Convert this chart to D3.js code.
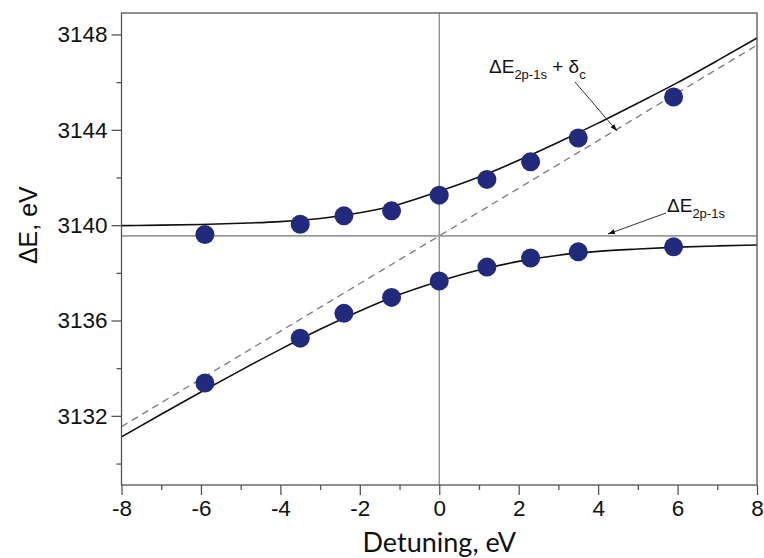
<!DOCTYPE html>
<html>
<head>
<meta charset="utf-8">
<script src="https://cdn.jsdelivr.net/npm/d3@7"></script>
<style>
  html, body { margin: 0; padding: 0; background: #fff; }
  svg { display: block; }
</style>
</head>
<body>
<div id="chart"></div>
<script>
// Measured transition energies vs. detuning (two branches of the avoided crossing)
const detuning = [-5.9, -3.5, -2.4, -1.2, 0, 1.2, 2.3, 3.5, 5.9];
const upperE   = [3139.61, 3140.04, 3140.39, 3140.60, 3141.26, 3141.92, 3142.66, 3143.66, 3145.38];
const lowerE   = [3133.38, 3135.26, 3136.30, 3136.97, 3137.66, 3138.24, 3138.62, 3138.88, 3139.09];

// Calculated branches
const curveX     = [-8, -7, -6, -5, -4, -3, -2, -1, 0, 1, 2, 3, 4, 5, 6, 7, 8];
const upperCurve = [3139.98, 3140.00, 3140.03, 3140.08, 3140.15, 3140.28, 3140.52, 3140.88, 3141.42,
                    3142.02, 3142.72, 3143.48, 3144.28, 3145.12, 3145.98, 3146.90, 3147.85];
const lowerCurve = [3131.12, 3132.07, 3133.00, 3133.91, 3134.79, 3135.63, 3136.40, 3137.09, 3137.65,
                    3138.12, 3138.48, 3138.74, 3138.90, 3139.00, 3139.08, 3139.13, 3139.17];

// Unperturbed levels: ΔE(2p-1s) and ΔE(2p-1s) + δ
const levelE    = 3139.55;
const diagonalX = [-8, 8];
const diagonalE = [3131.55, 3147.55];

// Axis ticks
const xTicks      = [-8, -6, -4, -2, 0, 2, 4, 6, 8];
const xMinorTicks = [-7, -5, -3, -1, 1, 3, 5, 7];
const yTicks      = [3132, 3136, 3140, 3144, 3148];
const yMinorTicks = [3130, 3134, 3138, 3142, 3146];

const W = 764, H = 558;
const margin = { top: 13, right: 7, bottom: 73, left: 121.5 };

const svg = d3.select("#chart").append("svg")
  .attr("width", W).attr("height", H);

const x = d3.scaleLinear().domain([-8, 8]).range([margin.left, W - margin.right]);
const y = d3.scaleLinear().domain([3129.1, 3148.9]).range([H - margin.bottom, margin.top]);

const axisColor = "#555";
const tickFont = "'Liberation Sans', Arial, sans-serif";
const plainInt = d => String(d);   // keeps an ASCII hyphen for negatives

svg.append("defs").append("clipPath").attr("id", "plot-clip")
  .append("rect")
  .attr("x", x(-8)).attr("y", y(3148.9))
  .attr("width", x(8) - x(-8)).attr("height", y(3129.1) - y(3148.9));

const plot = svg.append("g").attr("clip-path", "url(#plot-clip)");

// Reference lines: zero detuning and the unperturbed level
plot.append("line")
  .attr("x1", x(0)).attr("x2", x(0))
  .attr("y1", y(3148.9)).attr("y2", y(3129.1))
  .attr("stroke", "#8a8a8a").attr("stroke-width", 1.3);

plot.append("line")
  .attr("x1", x(-8)).attr("x2", x(8))
  .attr("y1", y(levelE)).attr("y2", y(levelE))
  .attr("stroke", "#9a9a9a").attr("stroke-width", 1.8);

// Dashed diagonal ΔE + δ
plot.append("line")
  .attr("x1", x(diagonalX[0])).attr("y1", y(diagonalE[0]))
  .attr("x2", x(diagonalX[1])).attr("y2", y(diagonalE[1]))
  .attr("stroke", "#7a7a7a").attr("stroke-width", 1.3)
  .attr("stroke-dasharray", "7,5");

// Calculated branches
const line = d3.line()
  .x(d => x(d[0])).y(d => y(d[1]))
  .curve(d3.curveMonotoneX);

[upperCurve, lowerCurve].forEach(c => {
  plot.append("path")
    .datum(curveX.map((v, i) => [v, c[i]]))
    .attr("d", line)
    .attr("fill", "none")
    .attr("stroke", "#111")
    .attr("stroke-width", 1.6);
});

// Measured points
[upperE, lowerE].forEach(s => {
  svg.append("g").selectAll("circle")
    .data(detuning.map((v, i) => [v, s[i]]))
    .join("circle")
    .attr("cx", d => x(d[0]))
    .attr("cy", d => y(d[1]))
    .attr("r", 9.5)
    .attr("fill", "#212a7c");
});

// Frame
svg.append("rect")
  .attr("x", x(-8)).attr("y", y(3148.9))
  .attr("width", x(8) - x(-8)).attr("height", y(3129.1) - y(3148.9))
  .attr("fill", "none").attr("stroke", axisColor).attr("stroke-width", 1.3);

// Axes
function styleAxis(g) {
  g.select(".domain").remove();
  g.selectAll(".tick line").attr("stroke", axisColor).attr("stroke-width", 1.3);
  g.selectAll(".tick text")
    .attr("fill", "#111")
    .style("font-family", tickFont)
    .style("font-size", "22.5px");
}

svg.append("g")
  .attr("transform", `translate(0,${y(3129.1)})`)
  .call(d3.axisBottom(x).tickValues(xTicks).tickSize(10).tickPadding(5).tickFormat(plainInt))
  .call(styleAxis);

svg.append("g")
  .attr("transform", `translate(0,${y(3129.1)})`)
  .call(d3.axisBottom(x).tickValues(xMinorTicks).tickSize(5).tickFormat(""))
  .call(styleAxis);

svg.append("g")
  .attr("transform", `translate(${x(-8)},0)`)
  .call(d3.axisLeft(y).tickValues(yTicks).tickSize(10).tickPadding(4).tickFormat(plainInt))
  .call(styleAxis);

svg.append("g")
  .attr("transform", `translate(${x(-8)},0)`)
  .call(d3.axisLeft(y).tickValues(yMinorTicks).tickSize(5).tickFormat(""))
  .call(styleAxis);

// Axis titles
svg.append("text")
  .attr("x", x(0)).attr("y", 552)
  .attr("text-anchor", "middle")
  .style("font-family", "Lato, 'Open Sans', sans-serif")
  .style("font-size", "27px")
  .attr("fill", "#111")
  .text("Detuning, eV");

svg.append("text")
  .attr("transform", `translate(37,${y(3140)}) rotate(-90)`)
  .attr("text-anchor", "middle")
  .style("font-family", tickFont)
  .style("font-size", "25px")
  .attr("fill", "#111")
  .text("ΔE, eV");

// Annotations
const annFont = "'Liberation Sans', Arial, sans-serif";

const ann1 = svg.append("text")
  .attr("x", 489).attr("y", 73)
  .style("font-family", annFont).style("font-size", "19px").attr("fill", "#111");
ann1.append("tspan").text("ΔE");
ann1.append("tspan").attr("dy", 6).style("font-size", "13px").text("2p-1s");
ann1.append("tspan").attr("dy", -6).text(" + δ");
ann1.append("tspan").attr("dy", 6).style("font-size", "13px").text("c");

const ann2 = svg.append("text")
  .attr("x", 667).attr("y", 212)
  .style("font-family", annFont).style("font-size", "19px").attr("fill", "#111");
ann2.append("tspan").text("ΔE");
ann2.append("tspan").attr("dy", 6).style("font-size", "13px").text("2p-1s");

svg.append("defs").append("marker")
  .attr("id", "arrow").attr("viewBox", "0 0 10 10")
  .attr("refX", 10).attr("refY", 5)
  .attr("markerWidth", 7).attr("markerHeight", 7)
  .attr("orient", "auto")
  .append("path").attr("d", "M0,1.5 L10,5 L0,8.5 Z").attr("fill", "#111");

svg.append("line")
  .attr("x1", 575).attr("y1", 82).attr("x2", 617).attr("y2", 131)
  .attr("stroke", "#333").attr("stroke-width", 1)
  .attr("marker-end", "url(#arrow)");

svg.append("line")
  .attr("x1", 666).attr("y1", 213).attr("x2", 608).attr("y2", 234)
  .attr("stroke", "#333").attr("stroke-width", 1)
  .attr("marker-end", "url(#arrow)");
</script>
</body>
</html>
